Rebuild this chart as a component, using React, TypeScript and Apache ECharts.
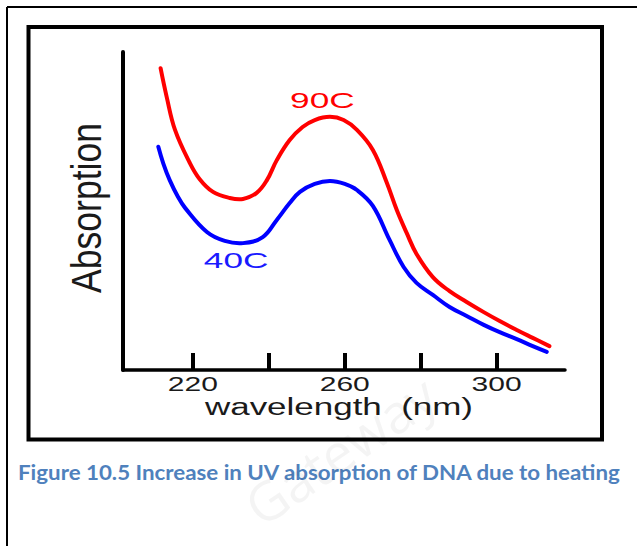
import React, { useEffect, useRef } from "react";
import * as echarts from "echarts";

// 90C curve (wavelength nm, relative absorption)
const wavelength90 = [211.5, 213.1, 215.3, 219.2, 221.8, 225.3, 229.7, 233.2, 236.8, 239.5, 242.1, 245.5, 248.9, 252.1, 256.1, 259.7, 263.2, 267.4, 271.1, 273.7, 276.3, 278.9, 283.2, 287.6, 292.1, 296.6, 300.8, 305.3, 309.5, 313.9];
const absorb90 = [0.949, 0.859, 0.755, 0.651, 0.6, 0.56, 0.541, 0.538, 0.557, 0.597, 0.66, 0.723, 0.764, 0.786, 0.796, 0.786, 0.755, 0.692, 0.588, 0.503, 0.431, 0.365, 0.292, 0.248, 0.214, 0.182, 0.154, 0.126, 0.101, 0.075];

// 40C curve
const wavelength40 = [210.9, 212.2, 213.9, 216.1, 218.0, 223.7, 228.4, 233.2, 238.4, 242.1, 245.5, 248.2, 252.1, 256.1, 260.0, 263.2, 267.4, 271.8, 275.5, 278.9, 283.2, 287.6, 292.1, 296.6, 300.8, 305.3, 309.5, 313.2];
const absorb40 = [0.702, 0.65, 0.597, 0.544, 0.509, 0.434, 0.406, 0.399, 0.418, 0.472, 0.525, 0.56, 0.585, 0.594, 0.585, 0.566, 0.516, 0.409, 0.324, 0.274, 0.236, 0.198, 0.17, 0.142, 0.119, 0.097, 0.075, 0.057];

const tickValues = [220, 240, 260, 280, 300];
const tickLabels = [220, 260, 300];
const xTitle = "wavelength  (nm)";
const yTitle = "Absorption";
const seriesNames = ["90C", "40C"];
const seriesColors = ["#ff0000", "#0000ff"];
const seriesLabelAt = [
  [254.1, 0.849],
  [231.4, 0.346],
];
const caption = "Figure 10.5 Increase in UV absorption of DNA due to heating";
const watermark = "Gateway";

const smoothCurve = (xs: number[], ys: number[], color: string, name: string) => ({
  name,
  type: "custom",
  data: xs.map((w, i) => [w, ys[i]]),
  encode: { x: 0, y: 1 },
  renderItem: (params: any, api: any) => {
    if (params.dataIndex !== 0) return { type: "group", children: [] };
    const points = xs.map((w, i) => api.coord([w, ys[i]]));
    return {
      type: "polyline",
      shape: { points, smooth: 0.4 },
      style: { stroke: color, lineWidth: 4, fill: null, lineJoin: "round", lineCap: "round" },
    };
  },
});

export default function App() {
  const ref = useRef<HTMLDivElement>(null);

  useEffect(() => {
    const chart = echarts.init(ref.current!, null, { renderer: "svg" });
    const FONT = "'Liberation Sans', Arial, sans-serif";
    chart.setOption({
      animation: false,
      backgroundColor: "#ffffff",
      grid: { left: 123, right: 72, top: 52, bottom: 176, containLabel: false },
      xAxis: {
        type: "value",
        min: 201.6,
        max: 318,
        axisLine: { show: true, lineStyle: { color: "#000", width: 3.5 } },
        axisTick: {
          show: true,
          inside: true,
          length: 17,
          customValues: tickValues,
          lineStyle: { color: "#000", width: 4 },
        },
        axisLabel: { show: false },
        splitLine: { show: false },
      },
      yAxis: {
        type: "value",
        min: 0,
        max: 1,
        axisLine: { show: true, lineStyle: { color: "#000", width: 4 } },
        axisTick: { show: false },
        axisLabel: { show: false },
        splitLine: { show: false },
      },
      series: [
        smoothCurve(wavelength90, absorb90, seriesColors[0], seriesNames[0]),
        smoothCurve(wavelength40, absorb40, seriesColors[1], seriesNames[1]),
      ],
    });

    const px = (w: number, v: number) =>
      chart.convertToPixel({ gridIndex: 0 }, [w, v]) as number[];
    const axisY = px(220, 0)[1];
    const axisX = px(201.6, 0)[0];
    const topY = px(220, 1)[1];

    const elements: any[] = [
      // outer frame lines
      { type: "line", shape: { x1: 7, y1: 7, x2: 637, y2: 7 }, style: { stroke: "#000", lineWidth: 2 } },
      { type: "line", shape: { x1: 7, y1: 7, x2: 7, y2: 546 }, style: { stroke: "#000", lineWidth: 2 } },
      // inner box
      {
        type: "rect",
        shape: { x: 28.5, y: 27, width: 573.5, height: 412.5 },
        style: { fill: "none", stroke: "#000", lineWidth: 4 },
      },
    ];

    tickLabels.forEach((t) => {
      elements.push({
        type: "text",
        x: px(t, 0)[0],
        y: axisY + 14,
        scaleX: 1.54,
        style: {
          text: String(t),
          fontSize: 19.5,
          fontFamily: FONT,
          fill: "#1a1a1a",
          align: "center",
          verticalAlign: "middle",
          textAlign: "center",
          textVerticalAlign: "middle",
        },
      });
    });

    elements.push({
      type: "text",
      x: 339,
      y: axisY + 36.5,
      scaleX: 1.52,
      style: {
        text: xTitle,
        fontSize: 23,
        fontFamily: FONT,
        fill: "#1a1a1a",
        align: "center",
        verticalAlign: "middle",
        textAlign: "center",
        textVerticalAlign: "middle",
        whiteSpace: "pre",
      },
    });

    elements.push({
      type: "text",
      x: axisX - 36.5,
      y: (axisY + topY) / 2 - 3,
      rotation: Math.PI / 2,
      scaleX: 1.185,
      scaleY: 1.4,
      style: {
        text: yTitle,
        fontSize: 30,
        fontFamily: FONT,
        fill: "#1a1a1a",
        align: "center",
        verticalAlign: "middle",
        textAlign: "center",
        textVerticalAlign: "middle",
      },
    });

    const labelColors = ["#ff0000", "#1a1aff"];
    seriesNames.forEach((n, i) => {
      const p = px(seriesLabelAt[i][0], seriesLabelAt[i][1]);
      elements.push({
        type: "text",
        x: p[0],
        y: p[1],
        scaleX: 1.6,
        style: {
          text: n,
          fontSize: 22,
          fontFamily: FONT,
          fill: labelColors[i],
          align: "center",
          verticalAlign: "middle",
          textAlign: "center",
          textVerticalAlign: "middle",
        },
      });
    });

    elements.push({
      type: "text",
      x: 18,
      y: 472,
      scaleX: 1.063,
      style: {
        text: caption,
        fontSize: 21,
        fontWeight: "bold",
        fontFamily: "Lato, 'Open Sans', sans-serif",
        fill: "#4F81BD",
        align: "left",
        verticalAlign: "middle",
        textAlign: "left",
        textVerticalAlign: "middle",
      },
    });

    elements.push({
      type: "text",
      x: 340,
      y: 450,
      rotation: 0.6,
      style: {
        text: watermark,
        fontSize: 54,
        fontFamily: "'Open Sans', sans-serif",
        fill: "rgba(0,0,0,0.045)",
        align: "center",
        verticalAlign: "middle",
        textAlign: "center",
        textVerticalAlign: "middle",
      },
    });

    chart.setOption({ graphic: { elements } });

    return () => chart.dispose();
  }, []);

  return (
    <div
      ref={ref}
      style={{ position: "absolute", left: 0, top: 0, width: 637, height: 546, background: "#fff" }}
    />
  );
}
